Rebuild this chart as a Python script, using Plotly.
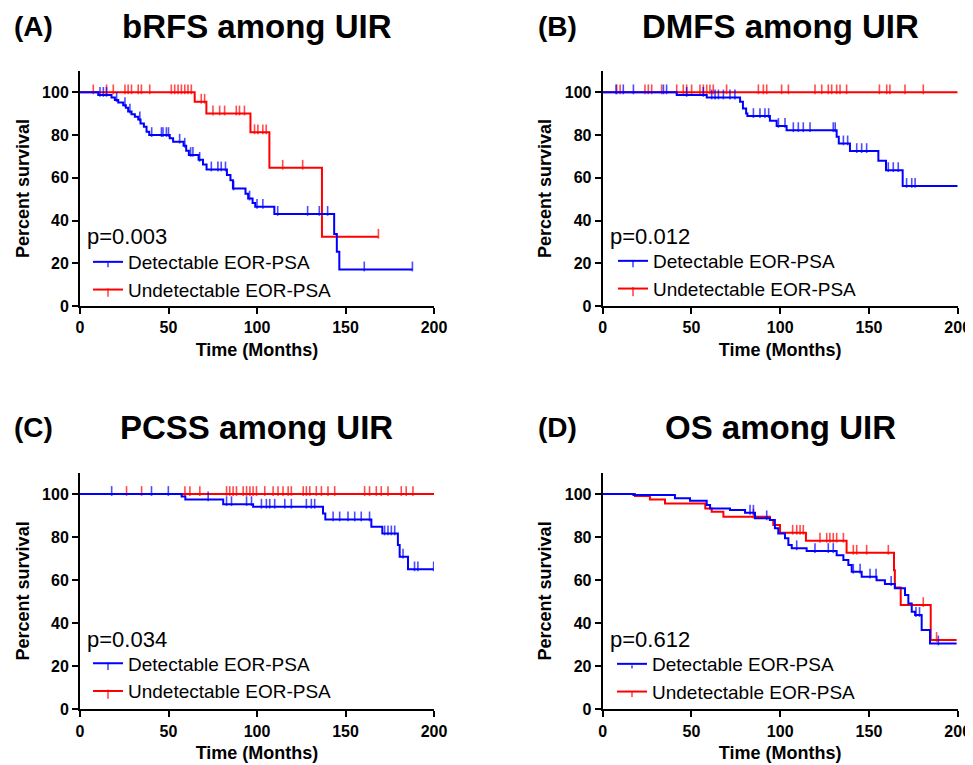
import plotly.graph_objects as go

BLUE = "#0000FF"
RED = "#FF0000"
FONT = "Liberation Sans, Arial, sans-serif"

x_ticks = [0, 50, 100, 150, 200]
y_ticks = [0, 20, 40, 60, 80, 100]
group_names = ["Detectable EOR-PSA", "Undetectable EOR-PSA"]
panel_labels = ["(A)", "(B)", "(C)", "(D)"]
panel_titles = ["bRFS among UIR", "DMFS among UIR", "PCSS among UIR", "OS among UIR"]
p_values = ["p=0.003", "p=0.012", "p=0.034", "p=0.612"]

# ---------------- Panel A: bRFS ----------------
a_det_t = [10.3, 17.8, 19.7, 21.6, 24.4, 25.9, 27.2, 29.1, 31.0, 32.9, 34.2, 36.1, 37.6, 39.1,
           50.7, 52.6, 58.5, 60.0, 61.5, 67.0, 69.5, 71.5, 83.0, 85.0, 86.4, 93.5, 95.0, 97.5,
           99.0, 109.8, 143.6, 145.1, 146.5]
a_det_s = [98.8, 97.6, 96.4, 95.2, 94.0, 92.8, 91.0, 89.7, 88.6, 87.3, 85.4, 83.9, 81.6, 80.0,
           78.5, 76.9, 75.0, 72.7, 70.7, 68.4, 66.2, 63.9, 61.3, 58.9, 55.0, 52.5, 50.3, 48.2,
           46.4, 43.1, 33.7, 25.4, 17.1]
a_det_c = [11.3, 13.2, 15.0, 20.7, 25.4, 28.2, 33.8, 40.5, 46.0, 46.9, 48.8, 50.0, 56.3, 59.2,
           62.5, 63.8, 67.6, 74.2, 77.9, 79.8, 82.2, 86.8, 95.8, 100.0, 103.3, 111.7, 128.6,
           135.2, 139.9, 160.6, 187.8]
a_det_end = 187.8
a_und_t = [64.8, 71.4, 96.3, 107.0, 136.7]
a_und_s = [95.6, 90.1, 81.3, 64.7, 32.4]
a_und_c = [7.5, 15.0, 18.8, 25.4, 27.2, 29.1, 32.9, 34.7, 39.4, 51.6, 53.5, 55.4, 57.3, 59.2,
           61.0, 62.9, 68.5, 70.4, 75.1, 78.9, 81.7, 88.3, 90.1, 92.9, 98.6, 100.5, 103.3,
           105.2, 114.5, 125.8, 168.6]
a_und_end = 168.6

# ---------------- Panel B: DMFS ----------------
b_det_t = [41.7, 58.6, 77.4, 79.0, 80.8, 81.5, 94.2, 98.0, 103.6, 131.8, 133.0, 139.3,
           155.3, 159.6, 169.0]
b_det_s = [98.8, 97.6, 95.6, 92.4, 90.1, 88.9, 86.7, 84.3, 82.3, 79.2, 76.1, 72.5,
           68.0, 63.6, 56.2]
b_det_c = [7.5, 11.6, 17.3, 34.2, 36.0, 47.3, 56.7, 61.4, 63.3, 65.2, 68.0, 71.7, 74.5,
           84.9, 88.6, 91.4, 93.5, 99.0, 102.7, 107.4, 110.2, 113.0, 116.8, 129.9, 131.0,
           135.6, 138.0, 143.1, 145.9, 148.7, 160.9, 163.7, 166.5, 171.2, 174.1, 176.0]
b_det_end = 200.0
b_und_t = []
b_und_s = []
b_und_c = [7.9, 9.8, 23.8, 25.7, 27.6, 33.2, 41.7, 45.4, 47.3, 50.1, 54.8, 56.7, 58.6,
           60.4, 62.3, 69.8, 87.7, 90.5, 92.4, 100.8, 104.6, 119.6, 123.4, 127.1, 129.0,
           131.8, 133.7, 137.4, 155.9, 160.0, 161.8, 170.3, 180.6]
b_und_end = 200.0

# ---------------- Panel C: PCSS ----------------
c_det_t = [57.4, 59.5, 80.9, 97.8, 137.3, 138.6, 164.6, 170.8, 179.6, 180.6, 185.3]
c_det_s = [98.8, 97.5, 95.3, 94.1, 91.0, 88.2, 84.8, 81.7, 76.3, 70.9, 65.0]
c_det_c = [17.9, 40.4, 49.9, 72.4, 82.8, 85.6, 94.1, 96.9, 102.5, 105.3, 107.2, 110.0,
           115.7, 119.4, 127.9, 130.7, 132.6, 143.0, 146.7, 151.4, 155.2, 158.9, 163.6,
           172.1, 174.0, 175.9, 177.8, 182.5, 189.0, 190.9, 199.8]
c_det_end = 199.8
c_und_t = []
c_und_s = []
c_und_c = [26.3, 34.8, 59.3, 62.1, 67.7, 82.8, 84.6, 86.5, 88.4, 92.2, 94.1, 96.0, 97.8,
           99.7, 104.4, 109.1, 111.9, 114.7, 117.6, 119.4, 126.1, 127.9, 129.8, 133.5,
           136.4, 140.1, 143.9, 160.8, 163.6, 167.4, 170.2, 174.0, 181.5, 184.3, 188.1]
c_und_end = 200.0

# ---------------- Panel D: OS ----------------
d_det_t = [17.3, 40.7, 49.2, 58.6, 60.5, 71.7, 80.2, 85.8, 94.2, 97.0, 98.9, 102.7, 104.6,
           106.5, 114.9, 131.8, 135.6, 138.4, 140.3, 145.9, 154.3, 159.0, 164.6, 170.3,
           172.2, 174.1, 176.0, 179.7, 184.4]
d_det_s = [99.5, 98.0, 96.9, 94.9, 93.3, 92.6, 91.3, 88.7, 87.9, 84.1, 81.7, 79.4, 76.3,
           74.8, 73.5, 71.6, 69.3, 67.0, 63.9, 61.6, 60.0, 58.2, 56.2, 53.1,
           49.2, 45.3, 43.8, 36.8, 30.6]
d_det_c = [83.0, 84.9, 92.4, 109.3, 119.6, 127.1, 129.9, 141.2, 145.0, 150.6, 154.0,
           162.5, 176.5, 178.5, 189.1]
d_det_end = 199.4
d_und_t = [18.2, 26.6, 35.1, 57.8, 61.4, 68.0, 94.2, 96.1, 99.9, 114.5, 137.4, 164.1,
           164.6, 167.9, 184.8]
d_und_s = [99.1, 97.5, 95.6, 93.3, 91.8, 89.5, 87.9, 85.6, 82.0, 78.3, 72.7, 64.6,
           56.6, 48.4, 32.2]
d_und_c = [84.9, 107.0, 109.3, 111.2, 113.0, 122.4, 126.2, 128.0, 129.9, 131.8, 135.6,
           141.2, 143.1, 148.7, 160.9, 180.6, 188.1]
d_und_end = 199.4

panels = [
    ((a_det_t, a_det_s, a_det_c, a_det_end), (a_und_t, a_und_s, a_und_c, a_und_end)),
    ((b_det_t, b_det_s, b_det_c, b_det_end), (b_und_t, b_und_s, b_und_c, b_und_end)),
    ((c_det_t, c_det_s, c_det_c, c_det_end), (c_und_t, c_und_s, c_und_c, c_und_end)),
    ((d_det_t, d_det_s, d_det_c, d_det_end), (d_und_t, d_und_s, d_und_c, d_und_end)),
]

CENS_SIZE = 7


def km_points(ev_t, ev_s, cens_t, end_t):
    def surv_at(t):
        s = 100.0
        for et, es in zip(ev_t, ev_s):
            if et <= t:
                s = es
        return s

    pts = [(0.0, 100.0, 0)]
    pts += [(t, s, 0) for t, s in zip(ev_t, ev_s)]
    pts += [(t, surv_at(t), CENS_SIZE) for t in cens_t]
    if end_t not in cens_t:
        pts.append((end_t, surv_at(end_t), 0))
    pts.sort(key=lambda p: p[0])
    return [p[0] for p in pts], [p[1] for p in pts], [p[2] for p in pts]


# The page body has an 8px margin; lay out in page pixels and offset by it.
OFF = 8
W, H = 973 - OFF, 765 - OFF


def px(x):
    return (x - OFF) / W


def py(y):
    return 1 - (y - OFF) / H


xdom = [[px(80), px(434)], [px(602.7), px(957.7)]]
ydom = [[py(306), py(71)], [py(709.3), py(472.5)]]

fig = go.Figure()
legend_names = ["legend", "legend2", "legend3", "legend4"]

for i, (det, und) in enumerate(panels):
    ax = "" if i == 0 else str(i + 1)
    for curve, color, name, rank in ((und, RED, group_names[1], 2), (det, BLUE, group_names[0], 1)):
        xs, ys, sz = km_points(*curve)
        fig.add_trace(go.Scatter(
            x=xs, y=ys, mode="lines+markers", name=name,
            line=dict(color=color, width=2, shape="hv"),
            marker=dict(symbol="line-ns", size=sz, color=color, angle=180,
                        line=dict(color=color, width=1.6), standoff=3),
            xaxis="x" + ax, yaxis="y" + ax,
            legend=legend_names[i], legendrank=rank, hoverinfo="skip",
        ))

axis_common = dict(showline=True, linecolor="black", linewidth=2, ticks="outside",
                   ticklen=6, tickwidth=2, tickcolor="black", showgrid=False,
                   zeroline=False, automargin=False,
                   tickfont=dict(family=FONT, size=16, color="black", weight="bold"))

layout = dict(width=W, height=H, margin=dict(l=0, r=0, t=0, b=0, autoexpand=False),
              paper_bgcolor="white", plot_bgcolor="white",
              font=dict(family=FONT, color="black"))

# legend (left x, vertical centre) in page pixels
legend_pos = [(88, 276), (613, 275), (88, 677.5), (612, 678)]

annotations = []
for i in range(4):
    col, row = i % 2, i // 2
    ax = "" if i == 0 else str(i + 1)
    layout["xaxis" + ax] = dict(axis_common, domain=xdom[col], range=[0, 200], tickvals=x_ticks,
                                anchor="y" + ax,
                                title=dict(text="Time (Months)", standoff=8,
                                           font=dict(family=FONT, size=18, weight="bold")))
    layout["yaxis" + ax] = dict(axis_common, domain=ydom[row], range=[0, 110], tickvals=y_ticks,
                                anchor="x" + ax,
                                title=dict(text="Percent survival", standoff=8,
                                           font=dict(family=FONT, size=18, weight="bold")))
    lx, ly = legend_pos[i]
    layout[legend_names[i]] = dict(x=px(lx), y=py(ly), xanchor="left", yanchor="middle",
                                   bgcolor="rgba(0,0,0,0)", traceorder="normal",
                                   font=dict(family=FONT, size=19, color="black"),
                                   itemwidth=30)
    ty = 27 if row == 0 else 427
    label_x = [33, 557][col]
    title_x = [257, 780][col]
    annotations.append(dict(text=panel_labels[i], x=px(label_x), y=py(ty), xref="paper",
                            yref="paper", showarrow=False, xanchor="center", yanchor="middle",
                            font=dict(family=FONT, size=28, weight="bold", color="black")))
    annotations.append(dict(text=panel_titles[i], x=px(title_x), y=py(ty), xref="paper",
                            yref="paper", showarrow=False, xanchor="center", yanchor="middle",
                            font=dict(family=FONT, size=33, weight="bold", color="black")))
    annotations.append(dict(text=p_values[i], x=0.014, y=0.295, xref="x" + ax + " domain",
                            yref="y" + ax + " domain", showarrow=False, xanchor="left",
                            yanchor="middle",
                            font=dict(family=FONT, size=22, color="black")))

layout["annotations"] = annotations
fig.update_layout(**layout)
fig.write_html("out.html")
